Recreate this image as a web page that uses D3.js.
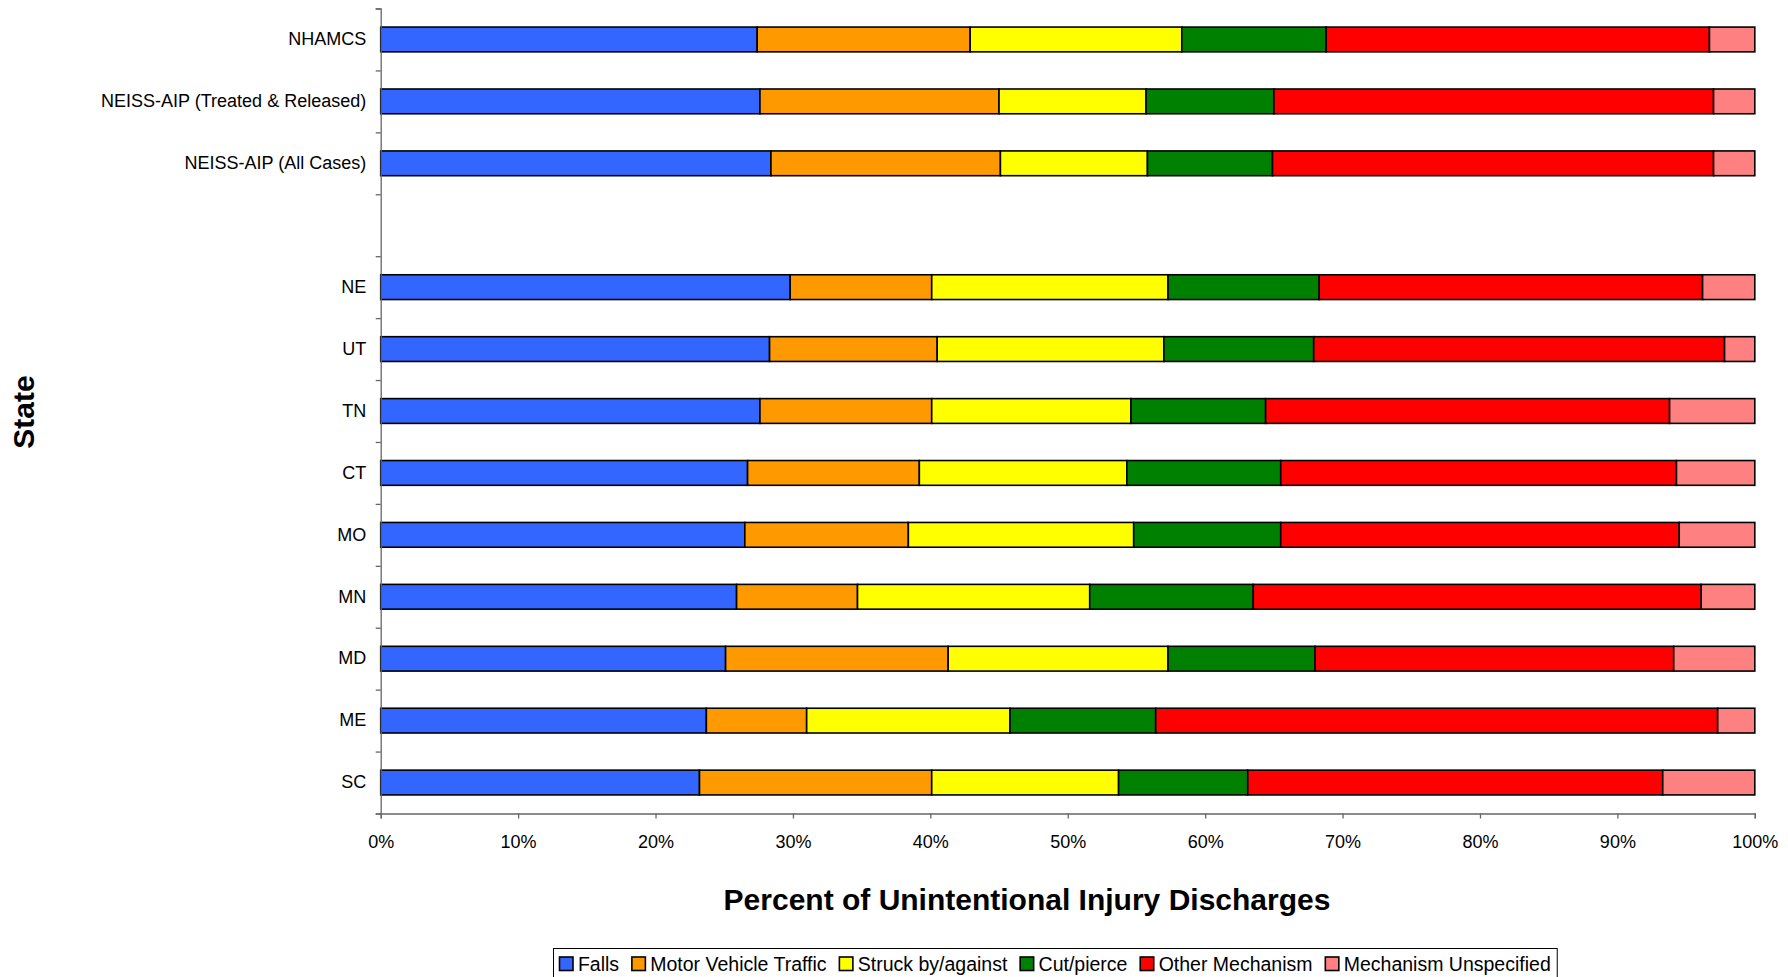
<!DOCTYPE html>
<html>
<head>
<meta charset="utf-8">
<script src="https://cdn.jsdelivr.net/npm/d3@7"></script>
<style>
  body { margin: 0; background: #fff; }
  svg { display: block; font-family: "Liberation Sans", Arial, sans-serif; }
</style>
</head>
<body>
<div id="chart"></div>
<script>
// Data
const categories = ["NHAMCS", "NEISS-AIP (Treated & Released)", "NEISS-AIP (All Cases)", "",
    "NE", "UT", "TN", "CT", "MO", "MN", "MD", "ME", "SC"];
const seriesNames = ["Falls", "Motor Vehicle Traffic", "Struck by/against", "Cut/pierce",
    "Other Mechanism", "Mechanism Unspecified"];
const seriesColors = ["#3366FF", "#FF9900", "#FFFF00", "#008000", "#FF0000", "#FF8080"];

const falls        = [27.4, 27.6, 28.4, null, 29.8, 28.3, 27.6, 26.7, 26.5, 25.9, 25.1, 23.7, 23.2];
const motorVehicle = [15.5, 17.4, 16.7, null, 10.3, 12.2, 12.5, 12.5, 11.9,  8.8, 16.2,  7.3, 16.9];
const struck       = [15.4, 10.7, 10.7, null, 17.2, 16.5, 14.5, 15.1, 16.4, 16.9, 16.0, 14.8, 13.6];
const cutPierce    = [10.5,  9.3,  9.1, null, 11.0, 10.9,  9.8, 11.2, 10.7, 11.9, 10.7, 10.6,  9.4];
const otherMech    = [27.9, 32.0, 32.1, null, 27.9, 29.9, 29.4, 28.8, 29.0, 32.6, 26.1, 40.9, 30.2];
const unspecified  = [ 3.3,  3.0,  3.0, null,  3.8,  2.2,  6.2,  5.7,  5.5,  3.9,  5.9,  2.7,  6.7];

const xTicks = [0, 10, 20, 30, 40, 50, 60, 70, 80, 90, 100];

// Layout
const width = 1788, height = 977;
const plot = { left: 380.7, right: 1754.8, top: 8.5, bottom: 813.5 };

const seriesValues = [falls, motorVehicle, struck, cutPierce, otherMech, unspecified];
const table = categories
    .map((c, i) => {
        const row = { category: c };
        seriesNames.forEach((s, j) => row[s] = seriesValues[j][i]);
        return row;
    })
    .filter(d => d.Falls != null);

const svg = d3.select("#chart").append("svg")
    .attr("width", width)
    .attr("height", height);

const x = d3.scaleLinear().domain([0, 100]).range([plot.left, plot.right]);
const y = d3.scaleBand().domain(categories)
    .range([plot.top, plot.bottom])
    .paddingInner(0.6)
    .paddingOuter(0.3);
const yEdge = d3.scaleLinear().domain([0, categories.length]).range([plot.top, plot.bottom]);

const stack = d3.stack().keys(seriesNames);
const layers = stack(table);

// Bars
svg.append("g")
    .selectAll("g")
    .data(layers)
    .join("g")
    .attr("fill", (d, i) => seriesColors[i])
    .selectAll("rect")
    .data(d => d)
    .join("rect")
    .attr("x", d => x(d[0]))
    .attr("y", d => y(d.data.category))
    .attr("width", d => x(d[1]) - x(d[0]))
    .attr("height", y.bandwidth())
    .attr("stroke", "#000")
    .attr("stroke-width", 1.6);

// Y axis: line and ticks between categories
const yAxisG = svg.append("g")
    .attr("transform", `translate(${plot.left},0)`)
    .call(d3.axisLeft(yEdge).tickValues(d3.range(categories.length + 1)).tickSize(5).tickFormat(""));
yAxisG.selectAll("path, line").attr("stroke", "#666").attr("stroke-width", 1.3);

// Y labels
const yLabelG = svg.append("g")
    .attr("transform", `translate(${plot.left},0)`)
    .call(d3.axisLeft(y).tickSize(0).tickPadding(14.5));
yLabelG.select(".domain").remove();
yLabelG.selectAll("text")
    .attr("font-size", 18)
    .attr("font-family", "Liberation Sans, Arial, sans-serif")
    .attr("fill", "#000");

// X axis
const xAxisG = svg.append("g")
    .attr("transform", `translate(0,${plot.bottom})`)
    .call(d3.axisBottom(x).tickValues(xTicks).tickSize(5).tickPadding(16.5).tickFormat(d => d + "%"));
xAxisG.selectAll("path, line").attr("stroke", "#666").attr("stroke-width", 1.3);
xAxisG.selectAll("text")
    .attr("font-size", 18)
    .attr("font-family", "Liberation Sans, Arial, sans-serif")
    .attr("fill", "#000");

// Axis titles
svg.append("text")
    .attr("x", 1027)
    .attr("y", 910)
    .attr("text-anchor", "middle")
    .attr("font-size", 30)
    .attr("font-weight", "bold")
    .text("Percent of Unintentional Injury Discharges");

svg.append("text")
    .attr("transform", "translate(34,412) rotate(-90)")
    .attr("text-anchor", "middle")
    .attr("font-size", 30)
    .attr("font-weight", "bold")
    .text("State");

// Legend
const legend = svg.append("g");
const legendBox = legend.append("rect")
    .attr("x", 553.5)
    .attr("y", 948.5)
    .attr("height", 50)
    .attr("fill", "#fff")
    .attr("stroke", "#000")
    .attr("stroke-width", 1);

let lx = 559.5;
seriesNames.forEach((name, i) => {
    legend.append("rect")
        .attr("x", lx)
        .attr("y", 957)
        .attr("width", 13.5)
        .attr("height", 13.5)
        .attr("fill", seriesColors[i])
        .attr("stroke", "#000")
        .attr("stroke-width", 1.6);
    const t = legend.append("text")
        .attr("x", lx + 18.4)
        .attr("y", 970.8)
        .attr("font-size", 19.5)
        .text(name);
    lx += 18.4 + t.node().getComputedTextLength() + 12.8;
});
legendBox.attr("width", lx - 12.8 + 6.5 - 553.5);
</script>
</body>
</html>
